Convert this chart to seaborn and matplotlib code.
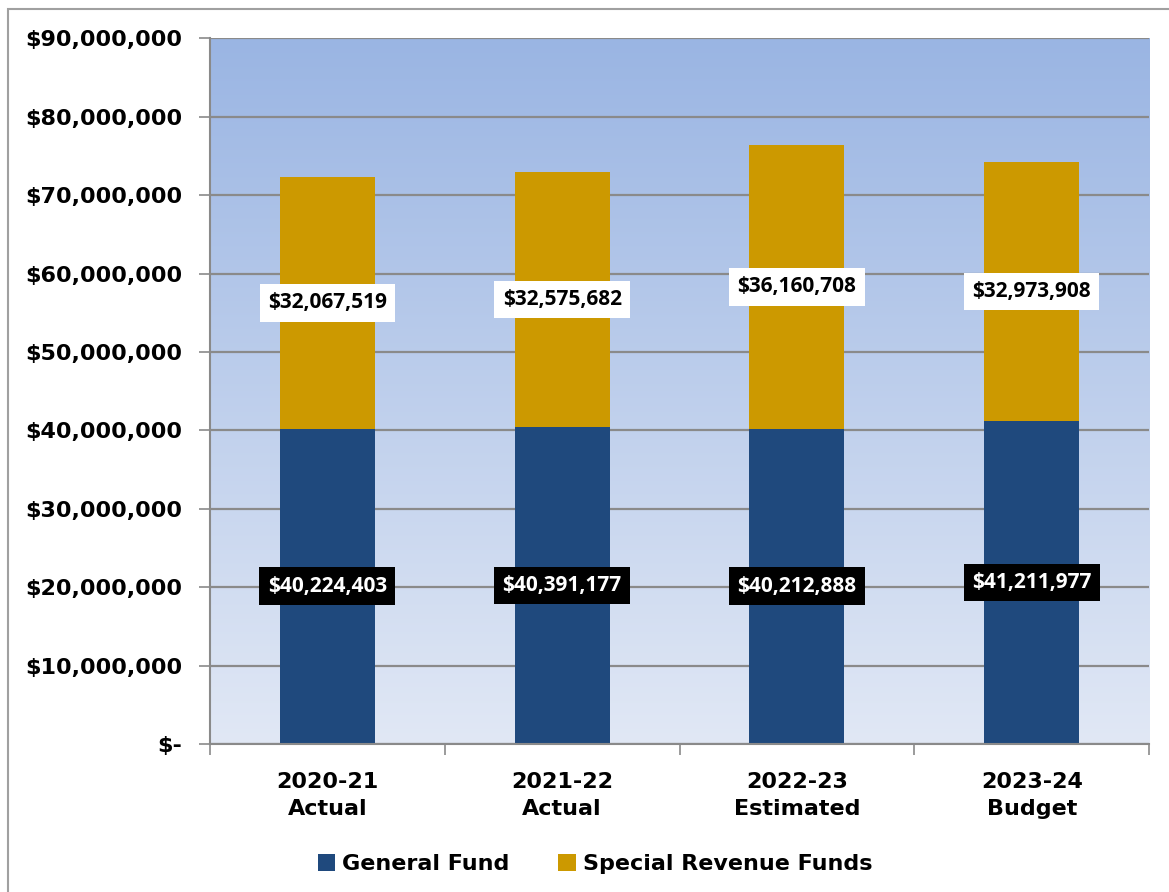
import numpy as np
import matplotlib
matplotlib.use("Agg")
import matplotlib.pyplot as plt
import seaborn as sns
from matplotlib.patches import Rectangle

categories = ["2020-21\nActual", "2021-22\nActual", "2022-23\nEstimated", "2023-24\nBudget"]
general_fund = [40224403, 40391177, 40212888, 41211977]
special_revenue = [32067519, 32575682, 36160708, 32973908]
y_ticks = list(range(0, 90000001, 10000000))

sns.set_theme(style="white")
plt.rcParams["font.family"] = ["DejaVu Sans"]
plt.rcParams["text.color"] = "black"
plt.rcParams["xtick.color"] = "black"
plt.rcParams["ytick.color"] = "black"

fig = plt.figure(figsize=(11.69, 8.92), dpi=100)
ax = fig.add_axes([0.1796, 0.166, 0.8034, 0.791])

# gradient background
grad = np.linspace(0, 1, 256).reshape(-1, 1)
top_c = np.array([0x9a, 0xb5, 0xe3]) / 255
bot_c = np.array([0xe1, 0xe8, 0xf5]) / 255
img = top_c * (1 - grad[..., None]) + bot_c * grad[..., None]
ax.imshow(img, extent=[0, 1, 0, 1], transform=ax.transAxes, aspect="auto", zorder=0)

sns.barplot(x=categories, y=general_fund, color="#1f497d", width=0.405,
            saturation=1, ax=ax, zorder=3, label="General Fund", linewidth=0)
sns.barplot(x=categories, y=special_revenue, bottom=general_fund, color="#cc9900",
            width=0.405, saturation=1, ax=ax, zorder=3, label="Special Revenue Funds",
            linewidth=0)

for i in range(len(categories)):
    ax.text(i, general_fund[i] / 2, f"${general_fund[i]:,}", ha="center", va="center",
            color="white", fontsize=15, fontweight="bold", family="Open Sans", zorder=5,
            bbox=dict(boxstyle="square,pad=0.4", fc="black", ec="none"))
    ax.text(i, general_fund[i] + special_revenue[i] / 2, f"${special_revenue[i]:,}",
            ha="center", va="center", color="black", fontsize=15, fontweight="bold",
            family="Open Sans", zorder=5,
            bbox=dict(boxstyle="square,pad=0.4", fc="white", ec="none"))

ax.set_ylim(0, 90000000)
ax.set_xlim(-0.5, 3.5)
ax.set_yticks(y_ticks)
ax.set_yticklabels(["$-"] + [f"${v:,}" for v in y_ticks[1:]], fontsize=16, fontweight="bold")
ax.grid(axis="y", color="#8a8a8a", linewidth=1.6, zorder=1)
ax.set_axisbelow(True)
ax.tick_params(axis="y", which="major", length=8, width=1.2, color="#8a8a8a", left=True, pad=12)
ax.set_xticks(range(len(categories)))
ax.set_xticklabels(categories, fontsize=16, fontweight="bold", linespacing=1.45)
ax.set_xticks(np.arange(-0.5, 4.0, 1.0), minor=True)
ax.tick_params(axis="x", which="major", length=0, pad=20)
ax.tick_params(axis="x", which="minor", length=8, width=1.2, color="#8a8a8a", bottom=True)
for s in ["top", "right"]:
    ax.spines[s].set_visible(False)
for s in ["left", "bottom"]:
    ax.spines[s].set_color("#8a8a8a")
    ax.spines[s].set_linewidth(1.5)
    ax.spines[s].set_zorder(4)

leg = ax.legend(loc="upper center", bbox_to_anchor=(0.41, -0.128), ncol=2, frameon=False,
                prop=dict(size=16, weight="bold"), handlelength=0.8, handleheight=0.8,
                handletextpad=0.3, columnspacing=2.2)

fig.patches.append(Rectangle((8 / 1169, -0.2), 1.2, 1.2 - 10 / 892 + 0.001, transform=fig.transFigure,
                             fill=False, ec="#a0a0a0", lw=1.5))

fig.savefig("out.png", dpi=100)
